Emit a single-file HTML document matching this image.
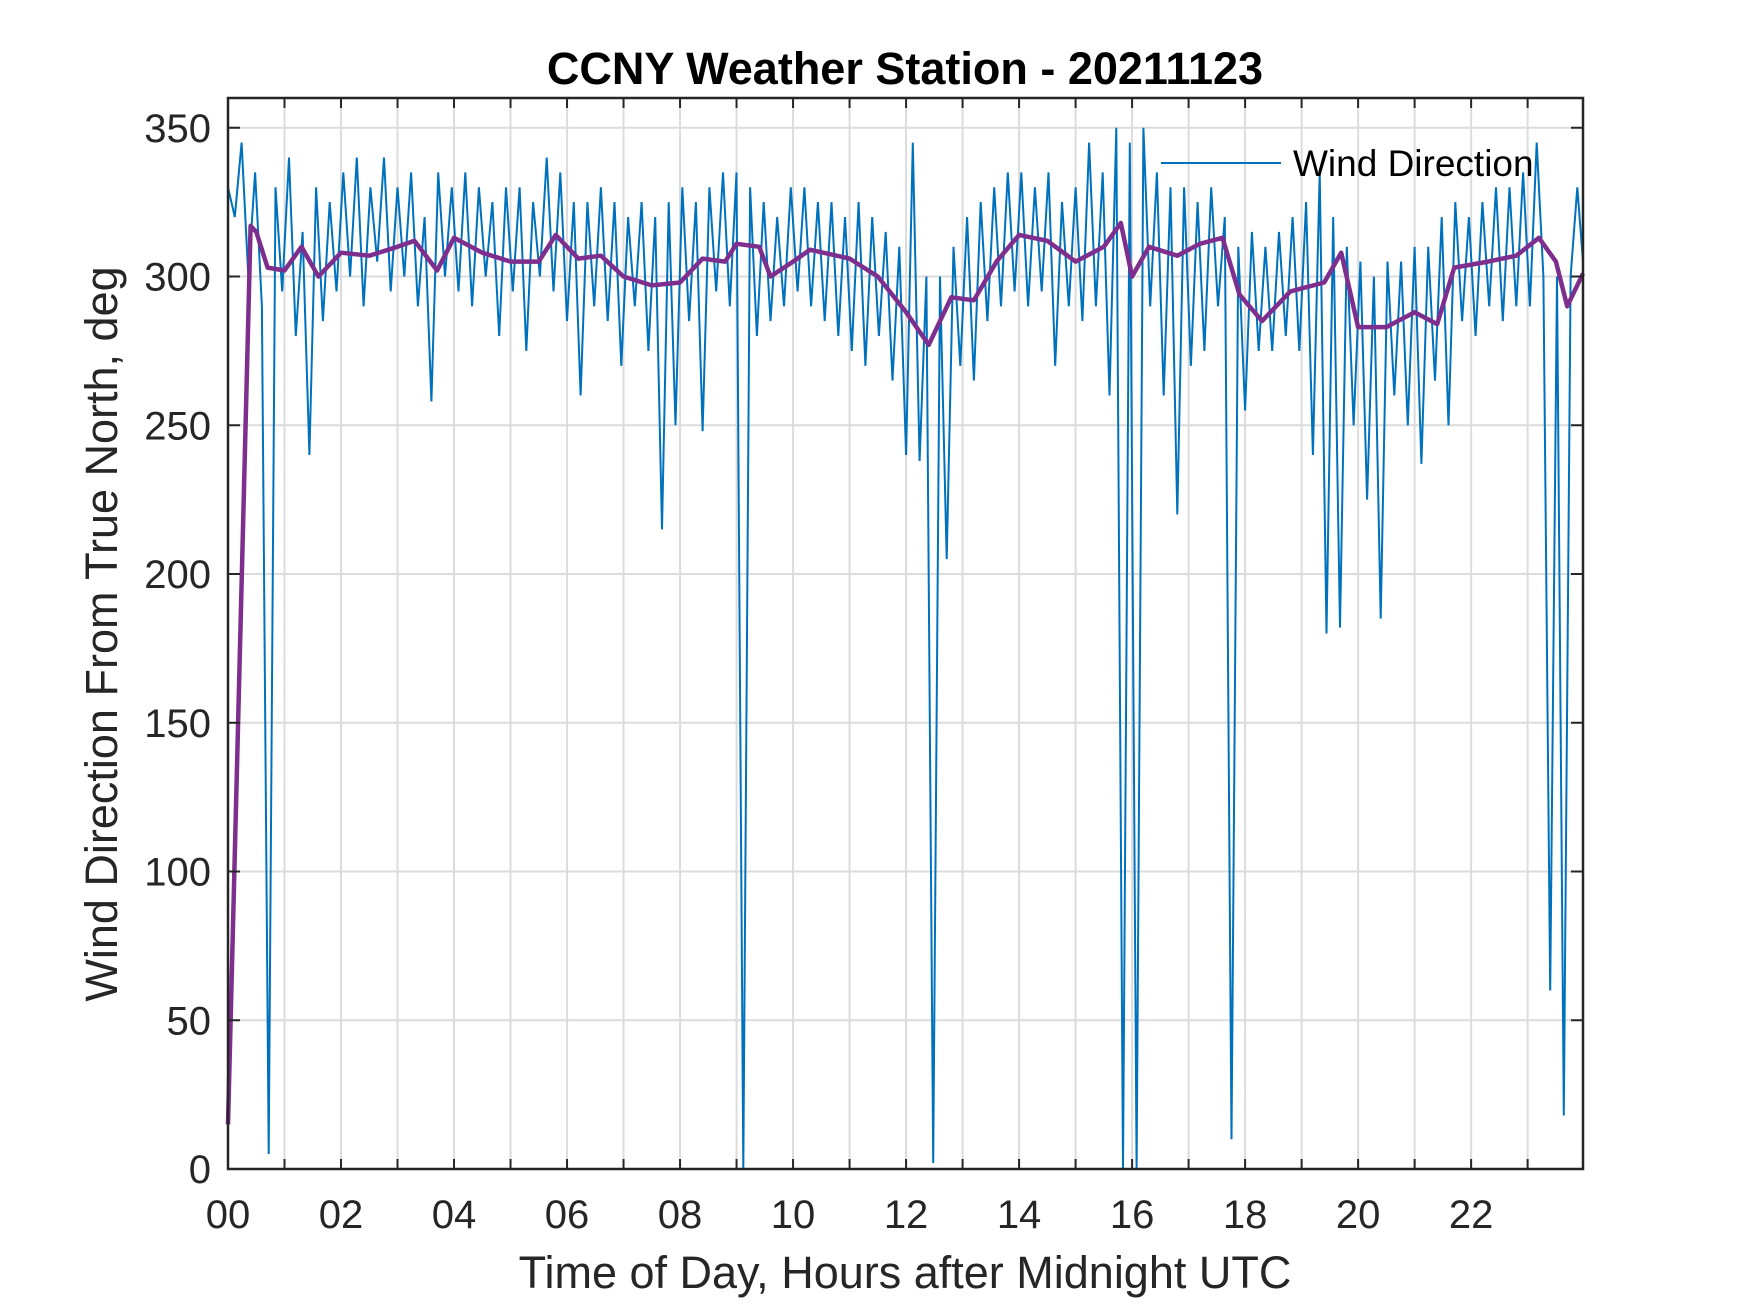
<!DOCTYPE html>
<html><head><meta charset="utf-8"><style>
html,body{margin:0;padding:0;background:#fff;}
svg{display:block;font-family:"Liberation Sans",Arial,sans-serif;}
</style></head><body>
<svg id="chart" width="1750" height="1313" viewBox="0 0 1750 1313" xmlns="http://www.w3.org/2000/svg">
<rect x="0" y="0" width="1750" height="1313" fill="#fff"/>
<text x="905" y="84" text-anchor="middle" font-size="45" font-weight="bold" fill="#000">CCNY Weather Station - 20211123</text>
<g id="grid"></g>
<g id="series"></g>
<g id="axes"></g>
<text x="905" y="1288" text-anchor="middle" font-size="45" fill="#262626">Time of Day, Hours after Midnight UTC</text>
<text transform="translate(117,634) rotate(-90)" text-anchor="middle" font-size="45" fill="#262626">Wind Direction From True North, deg</text>
<g>
<line x1="1161" y1="163" x2="1281" y2="163" stroke="#0072BD" stroke-width="2"/>
<text x="1293" y="176" font-size="37" fill="#000">Wind Direction</text>
</g>
</svg>
<script>
const xTicks = [0,2,4,6,8,10,12,14,16,18,20,22];
const xTickLabels = ["00","02","04","06","08","10","12","14","16","18","20","22"];
const yTicks = [0,50,100,150,200,250,300,350];
const blueStep = 0.12;
const blueValues = [330,320,345,300,335,290,5,330,295,340,280,315,240,330,285,325,295,335,300,340,
290,330,305,340,295,330,300,335,290,320,258,335,300,330,295,335,290,330,300,325,
280,330,295,330,275,325,300,340,295,335,285,325,260,325,290,330,285,325,270,320,
290,325,275,320,215,325,250,330,285,325,248,330,295,335,290,335,0,330,280,325,
285,320,290,330,295,330,290,325,285,325,280,320,275,325,270,320,280,315,265,310,
240,345,238,300,2,300,205,310,270,320,265,325,285,330,290,335,295,335,290,330,
295,335,270,325,290,330,285,345,290,335,260,350,0,345,0,350,290,335,260,330,
220,330,270,325,275,330,290,320,10,310,255,315,275,310,275,315,280,320,275,325,
240,335,180,320,182,310,250,305,225,300,185,305,260,305,250,310,237,310,265,320,
250,325,285,320,280,325,290,330,285,330,290,335,290,345,300,60,300,18,300,330,305];
const meanTimes = [0,0.4,0.5,0.7,1,1.3,1.6,2,2.5,3,3.3,3.7,4,4.5,5,5.5,5.8,6.2,6.6,7,7.5,8,8.4,8.8,9,9.4,9.6,10,10.3,11,11.5,12,12.4,12.8,13.2,13.6,14,14.5,15,15.5,15.8,16,16.3,16.8,17.2,17.6,17.9,18.3,18.8,19.4,19.7,20,20.5,21,21.4,21.7,22.3,22.8,23.2,23.5,23.7,23.98];
const meanValues = [15,317,315,303,302,310,300,308,307,310,312,302,313,308,305,305,314,306,307,300,297,298,306,305,311,310,300,305,309,306,300,288,277,293,292,305,314,312,305,310,318,300,310,307,311,313,294,285,295,298,308,283,283,288,284,303,305,307,313,305,290,301];

const L=228,R=1583,T=98,B=1169,XMAX=23.98,YMAX=360;
const xs=v=>L+(v/XMAX)*(R-L);
const ys=v=>B-(v/YMAX)*(B-T);
const NS="http://www.w3.org/2000/svg";
function mk(tag,attrs,parent){const e=document.createElementNS(NS,tag);for(const k in attrs)e.setAttribute(k,attrs[k]);parent.appendChild(e);return e;}
const grid=document.getElementById('grid'),axes=document.getElementById('axes'),series=document.getElementById('series');
for(let h=1;h<24;h++){const g=mk('line',{x1:xs(h),x2:xs(h),y1:T,y2:B,stroke:'#dcdcdc','stroke-width':2},grid);


[[B,B-10],[T,T+10]].forEach(p=>{const t=mk('line',{x1:xs(h),x2:xs(h),y1:p[0],y2:p[1],stroke:'#262626','stroke-width':2},axes);

});}
yTicks.forEach(v=>{if(v>0){const g=mk('line',{x1:L,x2:R,y1:ys(v),y2:ys(v),stroke:'#dcdcdc','stroke-width':2},grid);


[[L,L+12],[R,R-12]].forEach(p=>{const t=mk('line',{x1:p[0],x2:p[1],y1:ys(v),y2:ys(v),stroke:'#262626','stroke-width':2},axes);

});}
const lab=mk('text',{x:211,y:ys(v)+14,'text-anchor':'end','font-size':40,fill:'#262626'},axes);
lab.textContent=v;

});
xTicks.forEach((v,i)=>{const lab=mk('text',{x:xs(v),y:1228,'text-anchor':'middle','font-size':40,fill:'#262626'},axes);
lab.textContent=xTickLabels[i];

});
const box=mk('rect',{x:L,y:T,width:R-L,height:B-T,fill:'none',stroke:'#262626','stroke-width':2.5},axes);


let d='';blueValues.forEach((v,i)=>{const t=Math.min(i*blueStep,XMAX);d+=(i?'L':'M')+xs(t).toFixed(1)+' '+ys(v).toFixed(1);});
const bl=mk('path',{d:d,fill:'none',stroke:'#0072BD','stroke-width':2,'stroke-linejoin':'miter'},series);


let d2='';meanValues.forEach((v,i)=>{d2+=(i?'L':'M')+xs(meanTimes[i]).toFixed(1)+' '+ys(v).toFixed(1);});
const pl=mk('path',{d:d2,fill:'none',stroke:'#7E2F8E','stroke-width':4.5,'stroke-linejoin':'round'},series);


</script>
</body></html>
